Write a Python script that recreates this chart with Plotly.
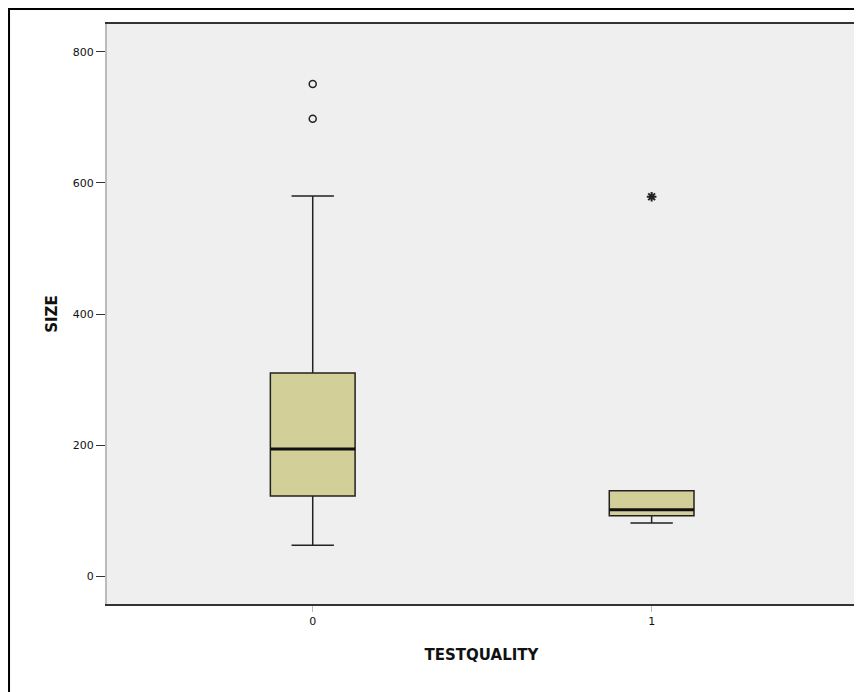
import plotly.graph_objects as go

# Data
groups = [0, 1]
group_labels = ["0", "1"]
q1 = [122, 92]
median = [194, 101]
q3 = [310, 130]
lower_whisker = [47, 81]
upper_whisker = [580, 130]
outliers_x = [0, 0]
outliers_y = [751, 698]
extremes_x = [1]
extremes_y = [579]
y_ticks = [0, 200, 400, 600, 800]

box_w = 0.25
fill = "#d3cf98"

fig = go.Figure()
fig.add_trace(go.Box(
    x=groups, q1=q1, median=median, q3=q3,
    lowerfence=lower_whisker, upperfence=upper_whisker,
    width=box_w, whiskerwidth=0.5,
    fillcolor=fill, line=dict(color="#222", width=1.5),
    boxpoints=False, showlegend=False, hoverinfo="skip",
))
# thick median lines (as in SPSS)
for g, m in zip(groups, median):
    fig.add_trace(go.Scatter(
        x=[g - box_w / 2, g + box_w / 2], y=[m, m], mode="lines",
        line=dict(color="#111", width=3), showlegend=False, hoverinfo="skip"))
fig.add_trace(go.Scatter(
    x=outliers_x, y=outliers_y, mode="markers",
    marker=dict(symbol="circle-open", size=7, color="#222", line=dict(width=1.5)),
    showlegend=False))
fig.add_trace(go.Scatter(
    x=extremes_x, y=extremes_y, mode="markers",
    marker=dict(symbol="asterisk-open", size=8, color="#222", line=dict(width=2, color="#222")),
    showlegend=False))

fig.update_layout(
    width=854, height=684,
    margin=dict(l=99, r=6, t=16, b=88),
    paper_bgcolor="white", plot_bgcolor="#efefef",
    font=dict(family="DejaVu Sans", color="#111"),
    xaxis=dict(
        range=[-0.607, 1.603], tickvals=groups, ticktext=group_labels,
        showgrid=False, zeroline=False,
        showline=True, linecolor="#333", linewidth=2, mirror=True,
        ticks="outside", ticklen=6, tickcolor="#bbb",
        tickfont=dict(size=11),
        title=dict(text="<b>TESTQUALITY</b>", font=dict(size=15), standoff=22),
    ),
    yaxis=dict(
        range=[-42.7, 842.7], tickvals=y_ticks,
        showgrid=False, zeroline=False,
        showline=True, linecolor="#bbb", linewidth=2,
        ticks="outside", ticklen=9, tickcolor="#333",
        tickfont=dict(size=11),
        title=dict(text="<b>SIZE</b>", font=dict(size=15), standoff=12),
    ),
    shapes=[
        dict(type="line", xref="paper", yref="paper", x0=1, x1=1, y0=0, y1=1,
             line=dict(color="#333", width=2)),
        dict(type="rect", xref="paper", yref="paper",
             x0=-0.1308, x1=1.2, y0=-0.3, y1=1.0259,
             line=dict(color="black", width=2)),
    ],
)

fig.write_html("out.html")
